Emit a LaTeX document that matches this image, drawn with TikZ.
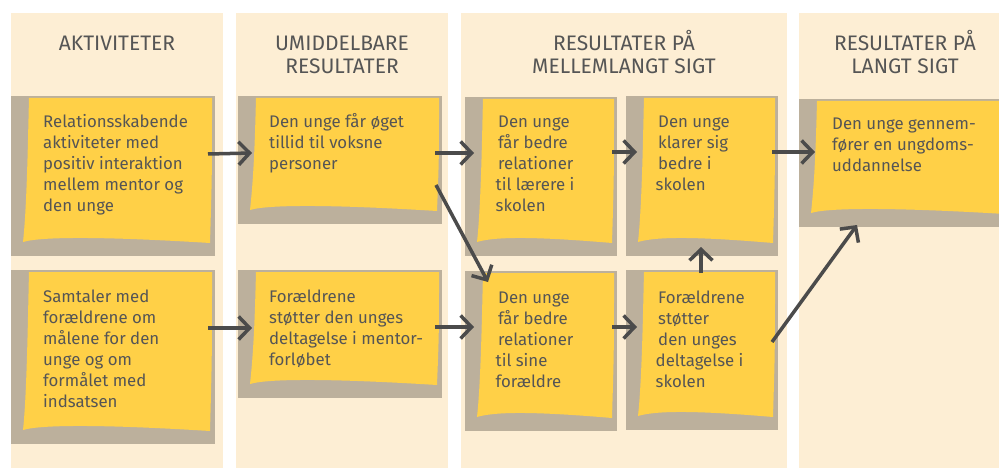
\documentclass[tikz,border=0pt]{standalone}
\usepackage{fontspec}
\setmainfont{Fira Sans}
\usetikzlibrary{arrows.meta,calc}
\definecolor{cream}{HTML}{FDEED4}
\definecolor{notegray}{HTML}{BCB09C}
\definecolor{noteyellow}{HTML}{FFD047}
\definecolor{arrowgray}{HTML}{4B4B4B}
\definecolor{textgray}{HTML}{555555}
\newcommand\linesL[1]{\begin{tabular}[t]{@{}l@{}}#1\end{tabular}}
\newcommand\linesC[1]{\begin{tabular}[t]{@{}c@{}}#1\end{tabular}}
\newcommand\ind{\hspace*{2.5pt}}
% sticky note: name, gray rect x1,y1,x2,y2 (y downwards)
\newcommand\stickynote[5]{%
  \node[notebg, minimum width={(#4-#2)*1pt}, minimum height={(#5-#3)*1pt}, anchor=north west] (#1) at (#2,#3) {};
  \fill[noteyellow] ({#2+18},{#3+2}) -- ({#4-3},{#3+2})
    .. controls ({#4-3},{(#3+#5)/2}) .. ({#4-5},{#5-13})
    .. controls ({(#2+#4)/2},{#5-19}) and ({#2+32},{#5-20}) .. ({#2+12},{#5-14})
    .. controls ({#2+16},{#5-50}) and ({#2+17},{#3+40}) .. ({#2+18},{#3+2}) -- cycle;
}
\tikzset{
  notebg/.style={fill=notegray, inner sep=0pt, outer sep=0pt},
  column/.style={fill=cream},
  txt/.style={anchor=base west, inner sep=0pt, text=textgray, font=\fontsize{16.8}{21}\selectfont},
  hdr/.style={anchor=base, inner sep=0pt, text=textgray, font=\fontsize{21}{23}\selectfont},
  arr/.style={draw=arrowgray, line width=3.5pt, -{Straight Barb[length=11pt,width=23pt]}},
}
\begin{document}
\begin{tikzpicture}[x=1pt,y=-1pt]
\useasboundingbox (0,0) rectangle (999,468);
\fill[white] (0,0) rectangle (999,468);
% columns
\fill[column] (11,13) rectangle (223,468);
\fill[column] (236,13) rectangle (448,468);
\fill[column] (461,13) rectangle (787,468);
\fill[column] (799,13) rectangle (1010,468);
% headers
\node[hdr] (h1) at (117,50.5) {\linesC{AKTIVITETER}};
\node[hdr] (h2) at (342,50.5) {\linesC{UMIDDELBARE\\RESULTATER}};
\node[hdr] (h3) at (624,50.5) {\linesC{RESULTATER PÅ\\MELLEMLANGT SIGT}};
\node[hdr] (h4) at (905,50.5) {\linesC{RESULTATER PÅ\\LANGT SIGT}};
% notes
\stickynote{A1}{11}{96}{215}{256}
\stickynote{A2}{11}{270}{215}{444}
\stickynote{B1}{238}{96}{442}{224}
\stickynote{B2}{238}{270}{442}{398}
\stickynote{C1}{465}{97}{617}{256}
\stickynote{C2}{626}{96}{778}{256}
\stickynote{C3}{465}{271}{617}{431}
\stickynote{C4}{626}{270}{778}{430}
\stickynote{D1}{799}{99}{1010}{227}
% texts
\node[txt] (A1t) at (43,128) {\linesL{Relationsskabende\\aktiviteter med\\positiv interaktion\\mellem mentor og\\den unge}};
\node[txt] (A2t) at (43,302) {\linesL{Samtaler med\\forældrene om\\målene for den\\unge og om\\formålet med\\indsatsen}};
\node[txt] (B1t) at (269,128) {\linesL{Den unge får øget\\tillid til voksne\\personer}};
\node[txt] (B2t) at (269,302) {\linesL{Forældrene\\støtter den unges\\deltagelse i mentor-\\forløbet}};
\node[txt] (C1t) at (495.5,128) {\linesL{\ind Den unge\\\ind får bedre\\\ind relationer\\til lærere i\\skolen}};
\node[txt] (C2t) at (655.5,128) {\linesL{\ind Den unge\\\ind klarer sig\\\ind bedre i\\skolen}};
\node[txt] (C3t) at (495.5,303) {\linesL{\ind Den unge\\\ind får bedre\\\ind relationer\\til sine\\forældre}};
\node[txt] (C4t) at (655.5,303) {\linesL{\ind Forældrene\\\ind støtter\\\ind den unges\\deltagelse i\\skolen}};
\node[txt] (D1t) at (832,130) {\linesL{Den unge gennem-\\fører en ungdoms-\\uddannelse}};
% arrows
\draw[arr] ($(A1.north east)+(-7,58)$) -- ($(B1.north west)+(14,57)$);
\draw[arr] ($(B1.north east)+(-7,57)$) -- ($(C1.north west)+(9,56)$);
\draw[arr] ($(C1.north east)+(-5,55)$) -- ($(C2.north west)+(11,56)$);
\draw[arr] ($(C2.north east)+(-6,56)$) -- ($(D1.north west)+(16,53)$);
\draw[arr] ($(A2.north east)+(-7,58)$) -- ($(B2.north west)+(14,58)$);
\draw[arr] ($(B2.north east)+(-7,57)$) -- ($(C3.north west)+(9,56)$);
\draw[arr] ($(C3.north east)+(-5,56)$) -- ($(C4.north west)+(11,57)$);
\draw[arr] ($(B1.north east)+(-6,89)$) -- ($(C3.north west)+(23,11)$);
\draw[arr] ($(C4.north)+(-1,3)$) -- ($(C2.south)+(-1,-9)$);
\draw[arr] ($(C4.north east)+(-6,72)$) -- ($(D1.south west)+(58,-2)$);
\end{tikzpicture}
\end{document}
